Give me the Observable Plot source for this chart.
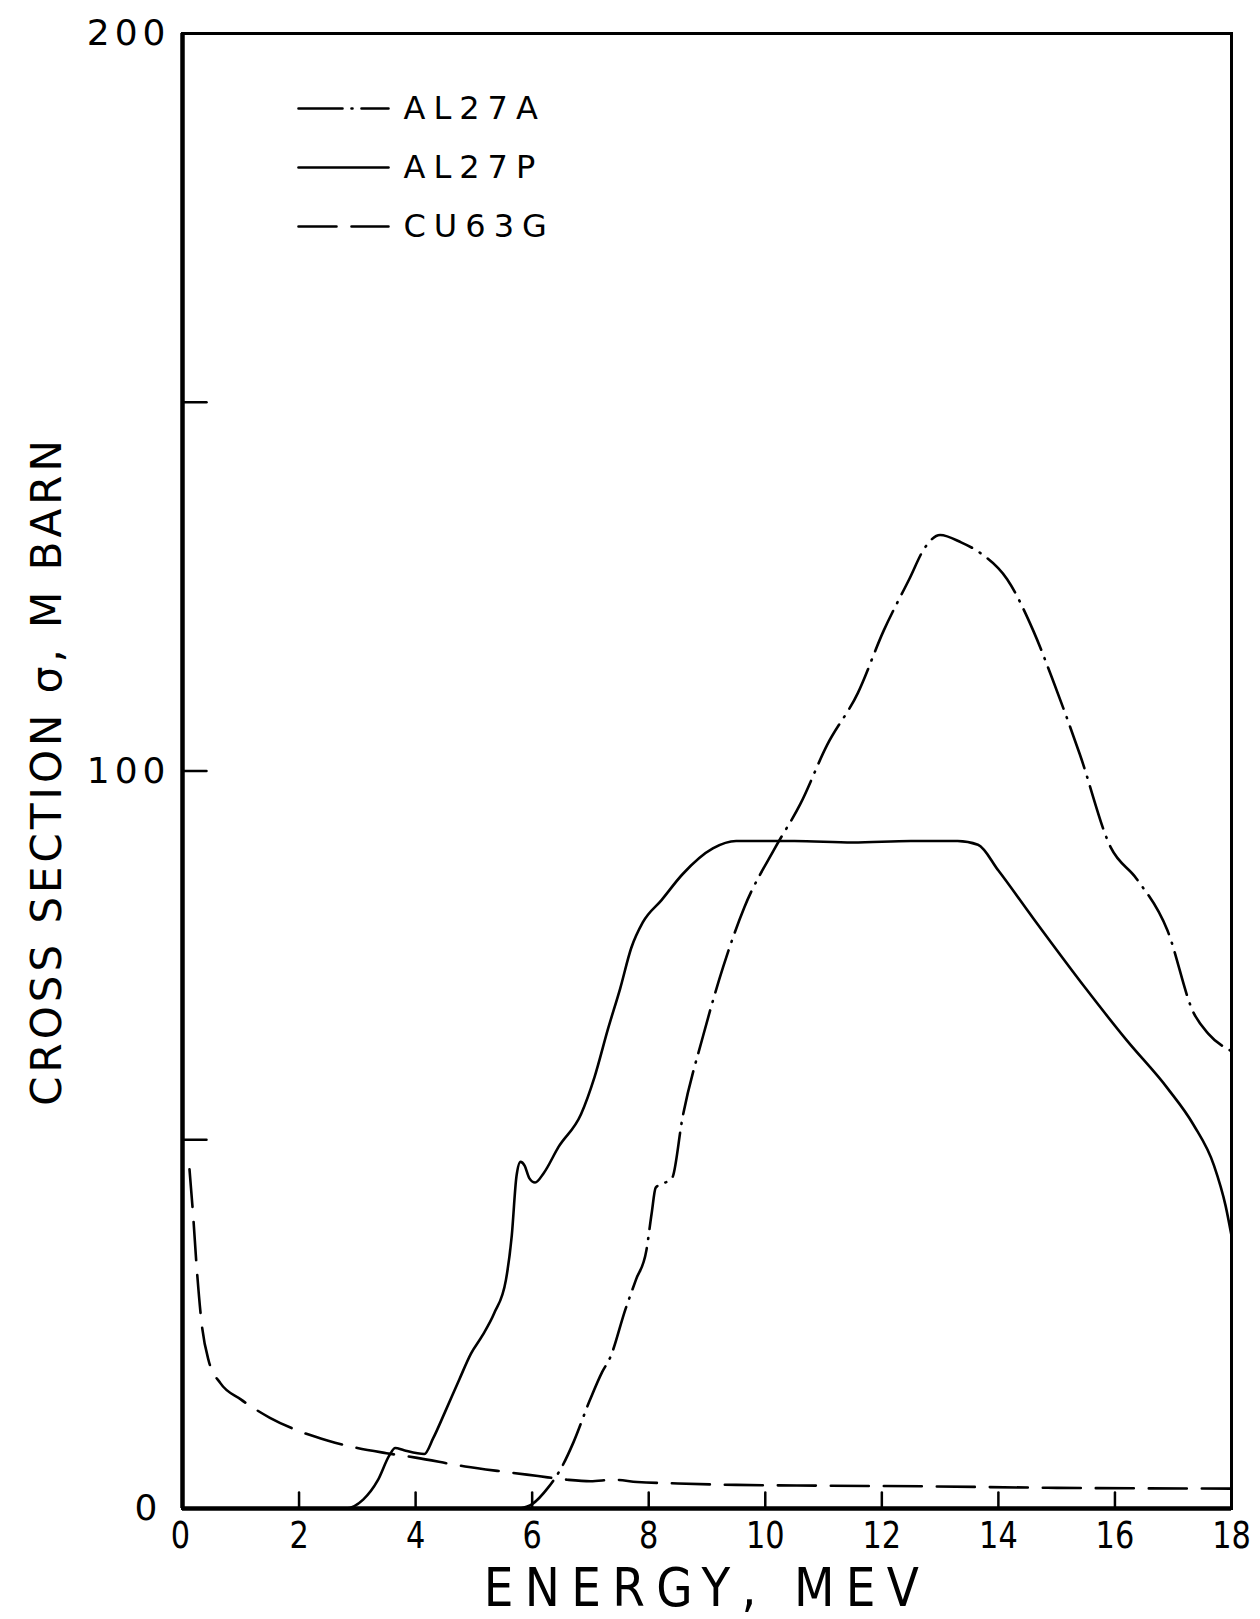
<!DOCTYPE html>
<html><head><meta charset="utf-8">
<script src="https://cdn.jsdelivr.net/npm/d3@7"></script>
<script src="https://cdn.jsdelivr.net/npm/@observablehq/plot@0.6"></script>
<style>
body{margin:0;background:#fff}
#chart svg{display:block}
</style>
</head><body><div id="chart"></div>
<script>
// ---- data (energy in MeV, cross section in mb) ----
const al27aX = [5.8,6.0,6.27,6.5,6.71,6.98,7.2,7.34,7.6,7.78,7.96,8.05,8.12,8.4,8.58,8.93,9.28,9.64,10.17,10.6,11.06,11.59,12.03,12.47,12.74,13.0,13.36,13.7,14.15,14.6,14.95,15.4,15.93,16.37,16.9,17.35,17.6,18];
const al27aY = [0,0.6,2.8,5.5,9,14.5,18.5,20.5,27,31,35,40,43.5,44.8,53,64,73.5,81.5,89.6,95.5,103.5,110.6,119,126,130.3,132,131,129.5,126,119,112,102.2,89.6,85.4,78.4,67.2,64.4,62];

const al27pX = [2.6,2.8,3.1,3.35,3.55,3.65,3.8,4.15,4.3,4.5,4.75,4.95,5.15,5.35,5.55,5.65,5.73,5.8,5.87,5.95,6.05,6.2,6.45,6.84,7.07,7.3,7.51,7.7,7.9,8.22,8.58,9.1,9.5,10.5,11.5,12.5,13.3,13.65,14.0,14.6,15.5,16.2,16.9,17.35,17.7,17.9,18];
const al27pY = [0,0,1.2,3.8,7.2,8.2,7.9,7.4,9.5,13,17.5,21,23.5,26.5,31,37,45,47,46.5,44.8,44.2,45.5,49,53.5,58.5,65,70.5,76,79.5,82.5,86,89.5,90.5,90.5,90.3,90.5,90.5,90,86.5,80,70.5,63.5,57,52,46.5,41,37];

const cu63gX = [0.12,0.18,0.25,0.33,0.45,0.65,1.0,1.5,2.0,2.5,3.0,3.5,4.0,4.85,5.5,6.1,6.6,7.0,7.4,7.8,8.5,9.5,11,12.8,15,18];
const cu63gY = [46,40,32,25,20,17,14.8,12.3,10.5,9.2,8.2,7.5,6.9,5.7,5.0,4.4,3.9,3.7,3.9,3.6,3.4,3.2,3.1,3.0,2.8,2.7];

const xTicks = [0,2,4,6,8,10,12,14,16,18];
const xInnerTicks = [2,4,6,8,10,12,14,16];
const yInnerTicks = [50,100,150];
const yLabelTicks = [100,200];
const yZeroTick = [0];
const legendLabels = ["AL27A","AL27P","CU63G"];
const xTitle = "ENERGY, MEV";
const yTitle = "CROSS SECTION σ, M BARN";

// ---- build tables ----
const zip = (xs, ys, name) => xs.map((x, i) => ({x, y: ys[i], name}));
const dashes = {AL27A: "44,9,1,9", AL27P: null, CU63G: "38,15"};
const series = [
  zip(al27aX, al27aY, "AL27A"),
  zip(al27pX, al27pY, "AL27P"),
  zip(cu63gX, cu63gY, "CU63G")
];

const lineShape = {draw(ctx, l) { ctx.moveTo(0, 0); ctx.lineTo(0, -l); }};
const FONT = "'DejaVu Sans', 'Liberation Sans', sans-serif";

const marks = [
  Plot.frame({stroke: "black", strokeWidth: 3}),
  Plot.ruleX([0], {stroke: "black", strokeWidth: 4.5}),
  Plot.ruleY([0], {stroke: "black", strokeWidth: 4.5}),
  Plot.vector(xInnerTicks, {x: d => d, frameAnchor: "bottom", anchor: "start", length: 16, rotate: 0, shape: lineShape, stroke: "black", strokeWidth: 2.5}),
  Plot.vector(yInnerTicks, {y: d => d, frameAnchor: "left", anchor: "start", length: 24, rotate: 90, shape: lineShape, stroke: "black", strokeWidth: 2.5}),
  Plot.axisX({ticks: xTicks, tickSize: 0, tickPadding: 13, fontSize: 38, label: null, className: "xlab", tickFormat: d => String(d)}),
  Plot.axisY({ticks: yLabelTicks, tickSize: 0, tickPadding: 12, fontSize: 36, label: null, tickFormat: d => String(d)}),
  Plot.axisY({ticks: yZeroTick, tickSize: 0, tickPadding: 20, fontSize: 36, label: null, tickFormat: d => String(d)}),
  ...series.map(s => Plot.line(s, {x: "x", y: "y", curve: "monotone-x", stroke: "black", strokeWidth: 2.6,
      strokeDasharray: dashes[s[0].name], strokeLinecap: "round"})),
  Plot.text([xTitle], {frameAnchor: "bottom", lineAnchor: "middle", dy: 80, fontSize: 54, className: "xtitle", fill: "black"}),
  Plot.text([yTitle], {frameAnchor: "left", textAnchor: "middle", lineAnchor: "middle", rotate: -90, dx: -135, fontSize: 42, fill: "black"}),
  ...legendLabels.flatMap((name, i) => [
    Plot.vector([name], {frameAnchor: "top-left", dx: 116, dy: 75 + i * 59, anchor: "start", length: 90, rotate: 90,
      shape: lineShape, stroke: "black", strokeWidth: 2.6, strokeDasharray: dashes[name], strokeLinecap: "round"}),
    Plot.text([name], {frameAnchor: "top-left", dx: 221, dy: 75 + i * 59, textAnchor: "start", lineAnchor: "middle", fontSize: 32, fill: "black"})
  ])
];

const chart = Plot.plot({
  width: 1260, height: 1619,
  marginLeft: 182, marginTop: 33, marginRight: 29, marginBottom: 111,
  x: {domain: [0, 18]},
  y: {domain: [0, 200]},
  style: {background: "white", color: "black", fontFamily: FONT},
  marks
});
document.getElementById("chart").appendChild(chart);

// letter spacing and narrowing to mimic the hand lettering
d3.select(chart).selectAll("text").each(function() {
  const t = this.textContent;
  let ls = 0;
  if (t === xTitle) ls = 13;
  else if (t === yTitle) ls = 4;
  else if (legendLabels.includes(t)) ls = 8;
  else if (t === "100" || t === "200" || t === "0") ls = 5;
  if (ls) this.setAttribute("letter-spacing", ls);
});
// condensed look for the energy axis lettering
d3.select(chart).selectAll(".xlab text, .xtitle text").each(function() {
  const w = this.getComputedTextLength();
  const k = this.closest(".xtitle") ? 0.87 : 0.8;
  this.setAttribute("textLength", w * k);
  this.setAttribute("lengthAdjust", "spacingAndGlyphs");
});
</script>
</body></html>
